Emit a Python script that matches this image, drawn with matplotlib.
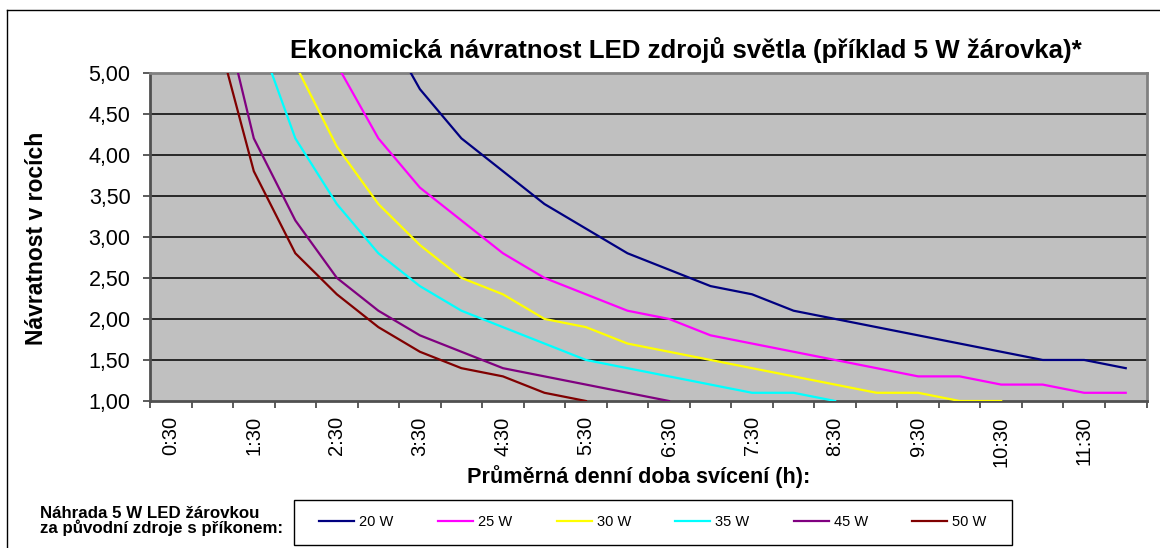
import matplotlib
matplotlib.use("Agg")
import matplotlib.pyplot as plt
from matplotlib.lines import Line2D
from matplotlib.patches import Rectangle

plt.rcParams['font.family'] = ['Liberation Sans', 'DejaVu Sans']

# kategorie: prumerna denni doba sviceni (po 30 min)
casy = ['0:30', '1:00', '1:30', '2:00', '2:30', '3:00', '3:30', '4:00',
        '4:30', '5:00', '5:30', '6:00', '6:30', '7:00', '7:30', '8:00',
        '8:30', '9:00', '9:30', '10:00', '10:30', '11:00', '11:30', '12:00']

# navratnost v rocich pro jednotlive puvodni zdroje
w20 = [33.6, 16.8, 11.2, 8.4, 6.7, 5.7, 4.8, 4.2, 3.8, 3.4, 3.1, 2.8,
       2.6, 2.4, 2.3, 2.1, 2.0, 1.9, 1.8, 1.7, 1.6, 1.5, 1.5, 1.4]
w25 = [25.2, 12.6, 8.4, 6.3, 5.1, 4.2, 3.6, 3.2, 2.8, 2.5, 2.3, 2.1,
       2.0, 1.8, 1.7, 1.6, 1.5, 1.4, 1.3, 1.3, 1.2, 1.2, 1.1, 1.1]
w30 = [20.4, 10.2, 6.8, 5.1, 4.1, 3.4, 2.9, 2.5, 2.3, 2.0, 1.9, 1.7,
       1.6, 1.5, 1.4, 1.3, 1.2, 1.1, 1.1, 1.0, 1.0]
w35 = [16.8, 8.4, 5.6, 4.2, 3.4, 2.8, 2.4, 2.1, 1.9, 1.7, 1.5, 1.4,
       1.3, 1.2, 1.1, 1.1, 1.0]
w45 = [12.6, 6.3, 4.2, 3.2, 2.5, 2.1, 1.8, 1.6, 1.4, 1.3, 1.2, 1.1, 1.0]
w50 = [11.4, 5.7, 3.8, 2.8, 2.3, 1.9, 1.6, 1.4, 1.3, 1.1, 1.0]

nazvy = ['20 W', '25 W', '30 W', '35 W', '45 W', '50 W']
barvy = ['#000080', '#FF00FF', '#FFFF00', '#00FFFF', '#800080', '#800000']
rady = [w20, w25, w30, w35, w45, w50]

W, H = 1160, 548
fig = plt.figure(figsize=(W / 100, H / 100), dpi=100)

# oblast grafu (pixely)
L, R, T, B = 150, 1146.5, 72.7, 401
ax = fig.add_axes([L / W, 1 - B / H, (R - L) / W, (B - T) / H])
ax.set_facecolor('#C0C0C0')

for hodnoty, barva, nazev in zip(rady, barvy, nazvy):
    ax.plot(range(len(hodnoty)), hodnoty, color=barva, lw=1.6,
            label=nazev, zorder=3, solid_joinstyle='round')

ax.set_xlim(-0.5, len(casy) - 0.5)
ax.set_ylim(1, 5)

yt = [1 + 0.5 * i for i in range(9)]
ax.set_yticks(yt)
ax.set_yticklabels([f'{v:.2f}'.replace('.', ',') for v in yt], fontsize=15.5)
for v in yt[1:-1]:
    ax.axhline(v, color='black', lw=1.1, zorder=1)

# x: carky na hranicich kategorii, popisky kazdou druhou kategorii
ax.set_xticks([i - 0.5 for i in range(len(casy) + 1)])
ax.set_xticklabels([])
ax.set_xticks(range(0, len(casy), 2), minor=True)
ax.set_xticklabels(casy[::2], minor=True, rotation=90, fontsize=14.5)
ax.tick_params(axis='x', which='major', length=5, width=1.2, color='#404040', direction='out')
ax.tick_params(axis='x', which='minor', length=0, pad=11)
ax.tick_params(axis='y', length=5, width=1.2, color='#404040', pad=9)

for s in ['left', 'bottom']:
    ax.spines[s].set_color('#505050')
    ax.spines[s].set_linewidth(2)
for s in ['top', 'right']:
    ax.spines[s].set_color('#808080')
    ax.spines[s].set_linewidth(2)

fig.text(686 / W, 1 - 58.3 / H,
         'Ekonomická návratnost LED zdrojů světla (příklad 5 W žárovka)*',
         ha='center', va='baseline', fontsize=18.6, fontweight='bold')
fig.text(37 / W, 1 - 238 / H, 'Návratnost v rocích', rotation=90,
         ha='center', va='center', fontsize=16.5, fontweight='bold')
fig.text(639 / W, 1 - 483 / H, 'Průměrná denní doba svícení (h):',
         ha='center', va='baseline', fontsize=15.6, fontweight='bold')
fig.text(40.5 / W, 1 - 521 / H,
         'Náhrada 5 W LED žárovkou\nza původní zdroje s příkonem:',
         ha='left', va='center', fontsize=12.2, fontweight='bold', linespacing=0.9)

# vnejsi ramecek grafu
fig.add_artist(Line2D([7 / W, 1], [1 - 10 / H, 1 - 10 / H], color='black', lw=1))
fig.add_artist(Line2D([7 / W, 7 / W], [0, 1 - 10 / H], color='black', lw=1))

# ramecek legendy
fig.add_artist(Rectangle((294 / W, 1 - 545 / H), (1012 - 294) / W, 45 / H,
                         transform=fig.transFigure, facecolor='white',
                         edgecolor='black', lw=1, zorder=1))
leg = fig.legend(loc='center', bbox_to_anchor=(653 / W, 1 - 522.5 / H), ncol=6,
                 fontsize=10.5, handlelength=2.4, columnspacing=3.05,
                 handletextpad=0.34, frameon=False, borderpad=0.2)
leg.set_zorder(2)
for ln in leg.get_lines():
    ln.set_linewidth(1.6)

fig.savefig('out.png', dpi=100)
